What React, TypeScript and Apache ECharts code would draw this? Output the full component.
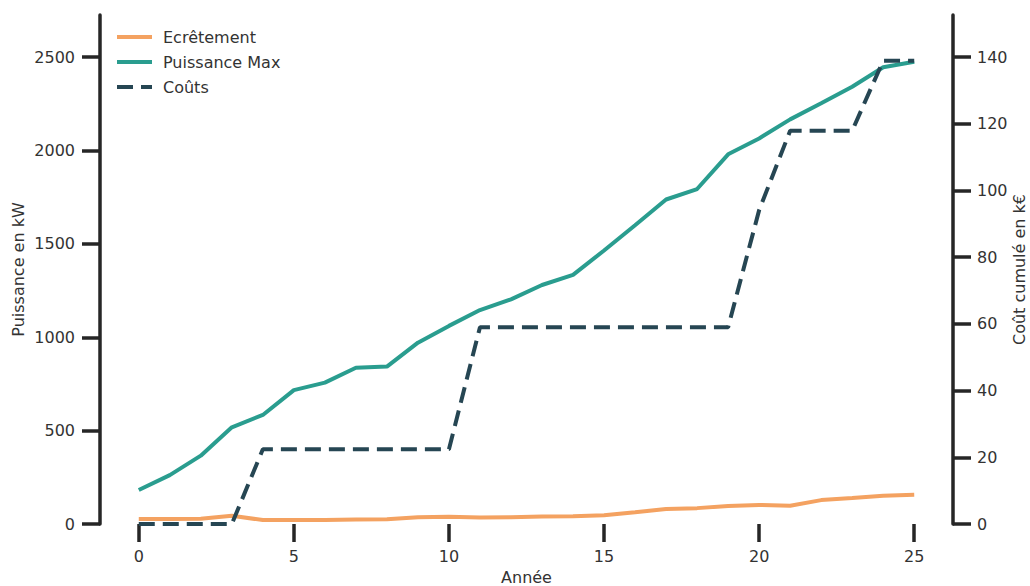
import React, { useEffect, useRef } from "react";
import * as echarts from "echarts";

const years = [0, 1, 2, 3, 4, 5, 6, 7, 8, 9, 10, 11, 12, 13, 14, 15, 16, 17, 18, 19, 20, 21, 22, 23, 24, 25];
const ecretement = [27, 27, 28, 44, 21, 21, 22, 24, 26, 36, 39, 35, 36, 40, 42, 47, 63, 80, 85, 96, 102, 98, 128, 139, 151, 156];
const puissanceMax = [182, 262, 366, 518, 584, 717, 757, 837, 843, 971, 1061, 1146, 1203, 1280, 1334, 1465, 1600, 1738, 1794, 1980, 2065, 2167, 2253, 2342, 2446, 2476];
const couts = [0, 0, 0, 0, 22.4, 22.4, 22.4, 22.4, 22.4, 22.4, 22.4, 59, 59, 59, 59, 59, 59, 59, 59, 59, 94.1, 117.9, 117.9, 117.9, 138.9, 138.9];

const xTicks = [0, 5, 10, 15, 20, 25];
const leftTicks = [0, 500, 1000, 1500, 2000, 2500];
const rightTicks = [0, 20, 40, 60, 80, 100, 120, 140];

const INK = "#262626";
const TEXT = "#333333";
const FONT = "DejaVu Sans";
const plain = (v: number) => String(v);

export default function App() {
  const ref = useRef<HTMLDivElement>(null);
  useEffect(() => {
    if (!ref.current) return;
    const chart = echarts.init(ref.current, null, { renderer: "svg" });
    const pair = (arr: number[]) => years.map((x, i) => [x, arr[i]]);
    chart.setOption({
      animation: false,
      textStyle: { fontFamily: FONT },
      grid: { left: 100, right: 77, top: 15, bottom: 62, containLabel: false, outerBoundsMode: "none" },
      legend: {
        orient: "vertical",
        left: 110,
        top: 24,
        itemWidth: 35,
        itemHeight: 14,
        itemGap: 9,
        textStyle: { fontFamily: FONT, fontSize: 16, color: TEXT, padding: [0, 0, 0, 6] },
        lineStyle: { width: 4 },
        itemStyle: { opacity: 0 },
        data: ["Ecrêtement", "Puissance Max", "Coûts"],
      },
      xAxis: {
        type: "value",
        min: -1.25,
        max: 26.25,
        name: "Année",
        nameLocation: "middle",
        nameGap: 45,
        nameMoveOverlap: false,
        nameTextStyle: { fontFamily: FONT, fontSize: 16, color: TEXT },
        axisLine: { show: false, onZero: false },
        axisTick: { show: true, length: 18, customValues: xTicks, lineStyle: { color: INK, width: 3.5 } },
        axisLabel: { customValues: xTicks, margin: 24, fontFamily: FONT, fontSize: 16, color: TEXT, formatter: plain },
        splitLine: { show: false },
      },
      yAxis: [
        {
          type: "value",
          min: 0,
          max: 2726,
          position: "left",
          name: "Puissance en kW",
          nameLocation: "middle",
          nameRotate: 90,
          nameGap: 74,
          nameMoveOverlap: false,
          nameTextStyle: { fontFamily: FONT, fontSize: 16, color: TEXT },
          axisLine: { show: true, onZero: false, lineStyle: { color: INK, width: 3.5 } },
          axisTick: { show: true, length: 18, customValues: leftTicks, lineStyle: { color: INK, width: 3.5 } },
          axisLabel: { customValues: leftTicks, margin: 25, fontFamily: FONT, fontSize: 16, color: TEXT, formatter: plain },
          splitLine: { show: false },
        },
        {
          type: "value",
          min: 0,
          max: 152.6,
          position: "right",
          name: "Coût cumulé en k€",
          nameLocation: "middle",
          nameRotate: 90,
          nameGap: 58,
          nameMoveOverlap: false,
          nameTextStyle: { fontFamily: FONT, fontSize: 16, color: TEXT },
          axisLine: { show: true, onZero: false, lineStyle: { color: INK, width: 3.5 } },
          axisTick: { show: true, length: 18, customValues: rightTicks, lineStyle: { color: INK, width: 3.5 } },
          axisLabel: { customValues: rightTicks, margin: 24, fontFamily: FONT, fontSize: 16, color: TEXT, formatter: plain },
          splitLine: { show: false },
        },
      ],
      series: [
        {
          name: "Ecrêtement",
          type: "line",
          yAxisIndex: 0,
          data: pair(ecretement),
          symbol: "none",
          lineStyle: { color: "#f4a261", width: 4 },
          itemStyle: { color: "#f4a261" },
        },
        {
          name: "Puissance Max",
          type: "line",
          yAxisIndex: 0,
          data: pair(puissanceMax),
          symbol: "none",
          lineStyle: { color: "#2a9d8f", width: 4 },
          itemStyle: { color: "#2a9d8f" },
        },
        {
          name: "Coûts",
          type: "line",
          yAxisIndex: 1,
          data: pair(couts),
          symbol: "none",
          lineStyle: { color: "#264653", width: 4, type: [16, 8] },
          itemStyle: { color: "#264653" },
        },
      ],
    });
    return () => chart.dispose();
  }, []);
  return (
    <div
      ref={ref}
      style={{ position: "fixed", left: 0, top: 0, width: 1030, height: 586, background: "#fff" }}
    />
  );
}
